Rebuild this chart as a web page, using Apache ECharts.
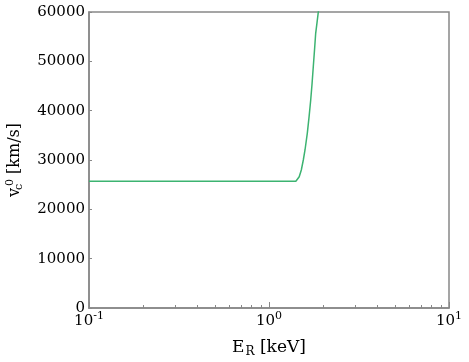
<!DOCTYPE html>
<html>
<head>
<meta charset="utf-8">
<script src="https://cdn.jsdelivr.net/npm/echarts@6/dist/echarts.min.js"></script>
<style>
  html, body { margin: 0; padding: 0; background: #fff; }
  #chart { width: 469px; height: 362px; }
</style>
</head>
<body>
<div id="chart"></div>
<script>
// recoil energy (keV) vs v_c^0 (km/s)
var energy = [0.1, 0.5, 1.0, 1.41, 1.44, 1.472, 1.512, 1.551, 1.585, 1.632, 1.67, 1.705, 1.735, 1.762, 1.79, 1.817, 1.849, 1.879, 1.92];
var vc0 = [25700, 25700, 25700, 25700, 26000, 26600, 27970, 30000, 32030, 35410, 38800, 42160, 45500, 48910, 52300, 55680, 57900, 60000, 64000];

var yTicks = [0, 10000, 20000, 30000, 40000, 50000, 60000];
var xMinorTicks = [0.2, 0.3, 0.4, 0.5, 0.6, 0.7, 0.8, 0.9, 2, 3, 4, 5, 6, 7, 8, 9];

var axisColor = "#888";
var font = "DejaVu Serif";

var points = energy.map(function(e, i) {
  return [e, vc0[i]];
});

var myChart = echarts.init(document.getElementById("chart"));

var option = {
  animation: false,
  textStyle: { fontFamily: font, color: "#000" },
  grid: {
    left: 89,
    right: 20,
    top: 12,
    bottom: 54,
    outerBoundsMode: "none",
    containLabel: false,
    show: true,
    borderColor: axisColor,
    borderWidth: 1.5
  },
  xAxis: [
    {
      type: "log",
      logBase: 10,
      min: 0.1,
      max: 10,
      name: "{e|E}{sub|R}{e| [keV]}",
      nameLocation: "middle",
      nameGap: 29,
      nameTextStyle: {
        rich: {
          e: { fontFamily: font, fontSize: 17, color: "#000" },
          sub: { fontFamily: font, fontSize: 12, color: "#000", padding: [9, 0, 0, 1] }
        }
      },
      axisLine: { lineStyle: { color: axisColor, width: 1.5 } },
      axisTick: { inside: true, length: 6, lineStyle: { color: axisColor } },
      splitLine: { show: false },
      axisLabel: {
        margin: 3,
        formatter: function(v) {
          var exp = Math.round(Math.log10(v));
          return "{b|10}{s|" + exp + "}";
        },
        rich: {
          b: { fontFamily: font, fontSize: 15, color: "#000" },
          s: { fontFamily: font, fontSize: 11, color: "#000", padding: [0, 0, 10, 0] }
        }
      }
    },
    {
      // minor ticks of the log axis
      type: "log",
      logBase: 10,
      min: 0.1,
      max: 10,
      position: "bottom",
      axisLine: { show: false },
      axisLabel: { show: false },
      splitLine: { show: false },
      axisTick: {
        inside: true,
        length: 3,
        customValues: xMinorTicks,
        lineStyle: { color: axisColor }
      }
    }
  ],
  yAxis: {
    type: "value",
    min: 0,
    max: 60000,
    interval: 10000,
    name: "{v|v}{sub|c}{sup|0}{v| [km/s]}",
    nameLocation: "middle",
    nameRotate: 90,
    nameGap: 64,
    nameTextStyle: {
      rich: {
        v: { fontFamily: font, fontSize: 16, color: "#000" },
        sub: { fontFamily: font, fontSize: 11, color: "#000", padding: [9, 0, 0, 1], width: 0.01 },
        sup: { fontFamily: font, fontSize: 11, color: "#000", padding: [0, 0, 9, 1] }
      }
    },
    axisLine: { show: true, lineStyle: { color: axisColor, width: 1.5 } },
    axisTick: { show: true, inside: true, length: 3, customValues: yTicks, lineStyle: { color: axisColor } },
    splitLine: { show: false },
    axisLabel: {
      margin: 4,
      fontFamily: font,
      fontSize: 15,
      color: "#000",
      formatter: function(v) {
        return String(v);
      }
    }
  },
  series: [
    {
      type: "line",
      data: points,
      showSymbol: false,
      smooth: false,
      clip: true,
      lineStyle: { color: "#3cb371", width: 1.5 }
    }
  ]
};

myChart.setOption(option);
</script>
</body>
</html>
